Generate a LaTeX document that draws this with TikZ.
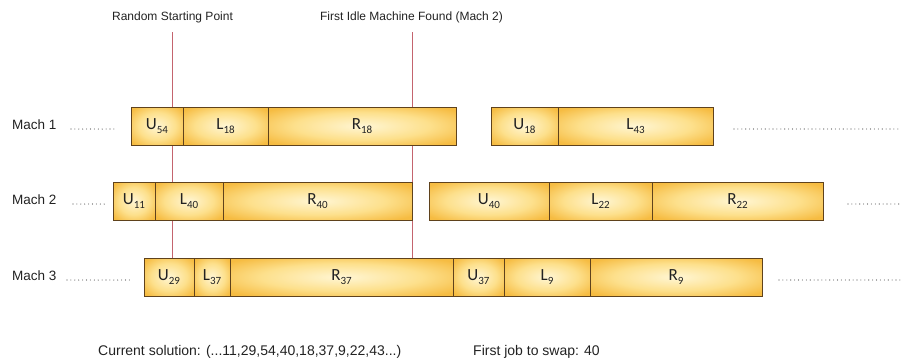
\documentclass[tikz,border=0pt]{standalone}
\usepackage{fontspec}
\usetikzlibrary{backgrounds}
\setmainfont{Liberation Sans}
\newfontfamily\boxfont{Carlito}
\definecolor{boxgold}{RGB}{246,188,66}
\definecolor{boxmid}{RGB}{253,224,140}
\definecolor{boxlight}{RGB}{255,246,212}
\definecolor{boxedge}{RGB}{95,66,28}
\definecolor{marker}{RGB}{196,100,110}
\definecolor{inktext}{RGB}{34,34,34}
% soft glow: light centre fading to gold at the edges
\pgfdeclareradialshading{boxglow}{\pgfpoint{0bp}{0bp}}{%
  color(0bp)=(boxlight); color(18bp)=(boxmid); color(32bp)=(boxgold); color(50bp)=(boxgold)}
% job label with a lowered, smaller index
\newcommand{\jobsub}[2]{#1\raisebox{-0.2em}{\fontsize{11}{11}\selectfont #2}}
\begin{document}
\begin{tikzpicture}[x=1pt,y=-1pt,
  box/.style={draw=boxedge, line width=0.9pt, shading=boxglow,
    minimum height=38pt, inner sep=0pt, outer sep=0pt,
    anchor=west, text=inktext, font=\boxfont\fontsize{17}{17}\selectfont},
  markline/.style={draw=marker, line width=0.8pt},
  dots/.style={draw=inktext!80, line width=1.1pt, line cap=round,
    dash pattern=on 0pt off 3.9pt},
  lbl/.style={inner sep=0pt, text=inktext, font=\fontsize{12}{12}\selectfont},
  machlbl/.style={inner sep=0pt, anchor=west, text=inktext, font=\fontsize{13.5}{13.5}\selectfont},
  footlbl/.style={inner sep=0pt, anchor=west, text=inktext, font=\fontsize{14}{14}\selectfont}]
\useasboundingbox (0,0) rectangle (901,362);

% marker captions
\node[lbl] (rsp) at (172.5,17) {Random Starting Point};
\node[lbl] (idle) at (411.5,17) {First Idle Machine Found (Mach 2)};
\coordinate (rsptop) at (172.5,32);
\coordinate (idletop) at (412,32);

% machine rows
\node[machlbl] (m1) at (12,125) {Mach 1};
\node[machlbl] (m2) at (12,200) {Mach 2};
\node[machlbl] (m3) at (12,276) {Mach 3};

% --- Mach 1
\node[box, minimum width=52pt]  (U54) at (131,126) {\jobsub{U}{54}};
\node[box, minimum width=85pt]  (L18) at (U54.east) {\jobsub{L}{18}};
\node[box, minimum width=188pt] (R18) at (L18.east) {\jobsub{R}{18}};
\node[box, minimum width=67pt]  (U18) at (491,126) {\jobsub{U}{18}};
\node[box, minimum width=155pt] (L43) at (U18.east) {\jobsub{L}{43}};

% --- Mach 2
\node[box, minimum width=42pt]  (U11) at (113,201) {\jobsub{U}{11}};
\node[box, minimum width=68pt]  (L40) at (U11.east) {\jobsub{L}{40}};
\node[box, minimum width=189pt] (R40) at (L40.east) {\jobsub{R}{40}};
\node[box, minimum width=120pt] (U40) at (429,201) {\jobsub{U}{40}};
\node[box, minimum width=103pt] (L22) at (U40.east) {\jobsub{L}{22}};
\node[box, minimum width=171pt] (R22) at (L22.east) {\jobsub{R}{22}};

% --- Mach 3
\node[box, minimum width=50pt]  (U29) at (144,277) {\jobsub{U}{29}};
\node[box, minimum width=36pt]  (L37) at (U29.east) {\jobsub{L}{37}};
\node[box, minimum width=223pt] (R37) at (L37.east) {\jobsub{R}{37}};
\node[box, minimum width=51pt]  (U37) at (R37.east) {\jobsub{U}{37}};
\node[box, minimum width=86pt]  (L9)  at (U37.east) {\jobsub{L}{9}};
\node[box, minimum width=172pt] (R9)  at (L9.east)  {\jobsub{R}{9}};

% marker lines run behind the job boxes
\begin{pgfonlayer}{background}
\draw[markline] (rsptop) -- (rsptop |- U29.north);
\draw[markline] (idletop) -- (idletop |- R37.north);
\end{pgfonlayer}

% continuation dots
\coordinate (d1a) at (71,129);  \coordinate (d1b) at (116,129);
\coordinate (d1c) at (734,129); \coordinate (d1d) at (901,129);
\coordinate (d2a) at (73,204);  \coordinate (d2b) at (106,204);
\coordinate (d2c) at (848,204); \coordinate (d2d) at (901,204);
\coordinate (d3a) at (67,280);  \coordinate (d3b) at (130,280);
\coordinate (d3c) at (779,280); \coordinate (d3d) at (901,280);
\draw[dots] (d1a) -- (d1b);  \draw[dots] (d1c) -- (d1d);
\draw[dots] (d2a) -- (d2b);  \draw[dots] (d2c) -- (d2d);
\draw[dots] (d3a) -- (d3b);  \draw[dots] (d3c) -- (d3d);

% footer
\node[footlbl] (sol) at (98,352) {Current solution: (...11,29,54,40,18,37,9,22,43...)};
\node[footlbl] (swap) at (473,352) {First job to swap: 40};
\end{tikzpicture}
\end{document}
